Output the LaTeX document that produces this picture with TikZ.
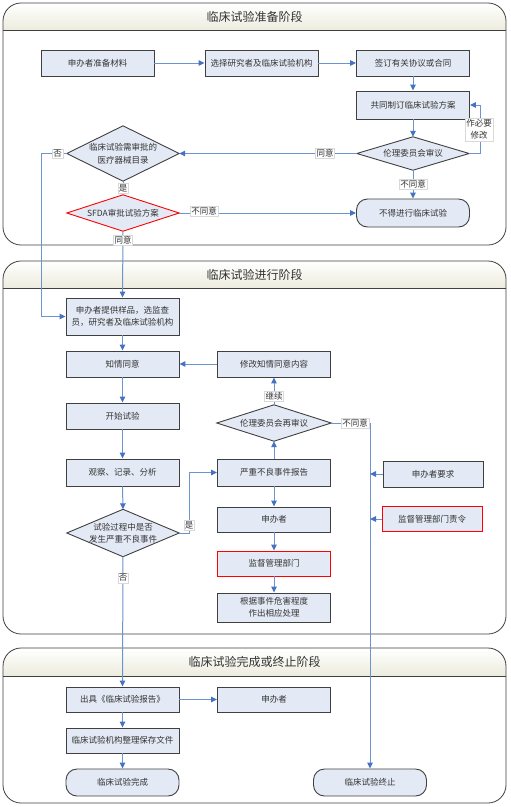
\documentclass[tikz,border=0pt]{standalone}
\usepackage{fontspec}
\setmainfont{Noto Sans CJK SC}
\usetikzlibrary{arrows.meta}
\definecolor{boxfill}{RGB}{228,234,245}
\definecolor{lnk}{RGB}{108,148,206}
\definecolor{tip}{RGB}{70,114,196}
\definecolor{frame}{RGB}{64,64,64}
\definecolor{headbot}{RGB}{236,236,222}
\newcommand\mydia[6]{%
 \node[diabox, minimum width=#3, minimum height=#4] (#1) at (#2) {};
 \draw[fill=boxfill, draw=#5, line width=0.9pt] (#1.north) -- (#1.east) -- (#1.south) -- (#1.west) -- cycle;
 \node[align=center, font=\fontsize{8.5}{12.5}\selectfont, text=black!80] (#1t) at (#1) {#6};
}
\newcommand\mysec[5]{% top, headline, bottom, title pos y, title
 \begin{scope}
 \clip[rounded corners=18] (3,#1) rectangle (506,#3);
 \shade[top color=white, bottom color=headbot] (3,#1) rectangle (506,#2);
 \end{scope}
 \draw[sec] (3,#1) rectangle (506,#3);
 \draw[draw=frame, line width=0.8pt] (3,#2) -- (506,#2);
 \node[title] at (254.5,#4) {#5};
}
\begin{document}
\begin{tikzpicture}[x=1pt,y=-1pt,
 box/.style={draw=frame, fill=boxfill, line width=0.9pt, minimum width=113, minimum height=26, inner sep=1pt, align=center, text=black!80, font=\fontsize{8.5}{12.5}\selectfont},
 redbox/.style={box, draw=red},
 term/.style={box, rounded corners=11},
 conn/.style={draw=lnk, line width=1pt, -{Triangle[width=5.5pt,length=6pt,color=tip]}},
 lbl/.style={fill=white, draw=black!15, line width=0.3pt, inner sep=1pt, text=black!80, font=\fontsize{8.5}{12.5}\selectfont, align=center},
 title/.style={font=\fontsize{12}{14}\selectfont, text=black!80},
 sec/.style={draw=frame, line width=0.8pt, rounded corners=18},
 diabox/.style={draw=none, inner sep=0pt}
]
\fill[white] (0,0) rectangle (511,807);
\useasboundingbox (0,0) rectangle (511,807);

\mysec{3}{30}{245}{16.5}{临床试验准备阶段}
\mysec{261}{288}{634}{274.5}{临床试验进行阶段}
\mysec{648}{676}{803}{662}{临床试验完成或终止阶段}

% section 1
\node[box] (n1) at (97.5,63) {申办者准备材料};
\node[box] (n2) at (261.5,63) {选择研究者及临床试验机构};
\node[box] (n3) at (413,63) {签订有关协议或合同};
\node[box, minimum height=28] (n4) at (413,105) {共同制订临床试验方案};
\mydia{d1}{413,153.5}{112}{33}{frame}{伦理委员会审议}
\mydia{d2}{123,153.5}{112}{55}{frame}{临床试验需审批的\\医疗器械目录}
\mydia{d3}{123,213}{112}{36}{red}{SFDA审批试验方案}
\node[term, minimum height=28] (t1) at (413,213) {不得进行临床试验};

% section 2
\node[box, minimum height=37] (n5) at (122.5,316.5) {申办者提供样品，选监查\\员，研究者及临床试验机构};
\node[box] (n6) at (122.5,364) {知情同意};
\node[box] (n7) at (274,364) {修改知情同意内容};
\node[box] (n8) at (122.5,416) {开始试验};
\mydia{d4}{274,423}{114}{36}{frame}{伦理委员会再审议}
\node[box, minimum height=27] (n9) at (122.5,472.5) {观察、记录、分析};
\node[box, minimum height=27] (n10) at (274,472.5) {严重不良事件报告};
\node[box, minimum width=100] (n11) at (433,474) {申办者要求};
\mydia{d5}{123,533}{112}{47}{frame}{试验过程中是否\\发生严重不良事件}
\node[box, minimum height=25] (n12) at (274,519.5) {申办者};
\node[redbox, minimum width=100, minimum height=25] (n13) at (432,519) {监督管理部门责令};
\node[redbox, minimum height=25] (n14) at (274,563.5) {监督管理部门};
\node[box, minimum height=29] (n15) at (274,607.5) {根据事件危害程度\\作出相应处理};

% section 3
\node[box, minimum height=25] (n16) at (122.5,699.5) {出具《临床试验报告》};
\node[box, minimum height=25] (n17) at (274,699.5) {申办者};
\node[box, minimum height=25] (n18) at (122.5,740.5) {临床试验机构整理保存文件};
\node[term, minimum height=27] (n19) at (122.5,782.5) {临床试验完成};
\node[term, minimum height=27] (n20) at (370,782.5) {临床试验终止};

% connectors
\coordinate (c1) at (480,153.5);
\coordinate (c2) at (41,153.5);
\coordinate (c3) at (189,533);
\coordinate (c4) at (370,474);
\coordinate (c5) at (370,519);
\draw[conn] (n1) -- (n2);
\draw[conn] (n2) -- (n3);
\draw[conn] (n3) -- (n4);
\draw[conn] (n4.south) -- (d1.north);
\draw[conn] (d1.east) -- (c1) |- (n4.east);
\draw[conn] (d1.west) -- (d2.east);
\draw[conn] (d1.south) -- (t1.north);
\draw[conn] (d2.south) -- (d3.north);
\draw[conn] (d3.east) -- (t1.west);
\draw[conn] (d3.south) -- (n5.north);
\draw[conn] (d2.west) -- (c2) |- (n5.west);
\draw[conn] (n5) -- (n6);
\draw[conn] (n7) -- (n6);
\draw[conn] (n6) -- (n8);
\draw[conn] (n8) -- (n9);
\draw[conn] (n9.south) -- (d5.north);
\draw[conn] (d4.north) -- (n7.south);
\draw[conn] (n10.north) -- (d4.south);
\draw[conn] (d5.east) -- (c3) |- (n10.west);
\draw[conn] (n10) -- (n12);
\draw[conn] (n12) -- (n14);
\draw[conn] (n14) -- (n15);
\draw[conn] (d4.east) -| (n20.north);
\draw[conn] (n11.west) -- (c4);
\draw[conn] (n13.west) -- (c5);
\draw[conn] (d5.south) -- (n16.north);
\draw[conn] (n16) -- (n17);
\draw[conn] (n16) -- (n18);
\draw[conn] (n18) -- (n19);

% labels
\node[lbl] (l1) at (479,129.5) {作必要\\修改};
\node[lbl] (l2) at (325,153.5) {同意};
\node[lbl] (l3) at (413,184) {不同意};
\node[lbl] (l4) at (123,188) {是};
\node[lbl] (l5) at (204,211) {不同意};
\node[lbl] (l6) at (123,240) {同意};
\node[lbl] (l7) at (57.5,153.5) {否};
\node[lbl] (l8) at (274,396) {继续};
\node[lbl] (l9) at (355,423) {不同意};
\node[lbl] (l10) at (189,525) {是};
\node[lbl] (l11) at (123,578) {否};
\end{tikzpicture}
\end{document}
